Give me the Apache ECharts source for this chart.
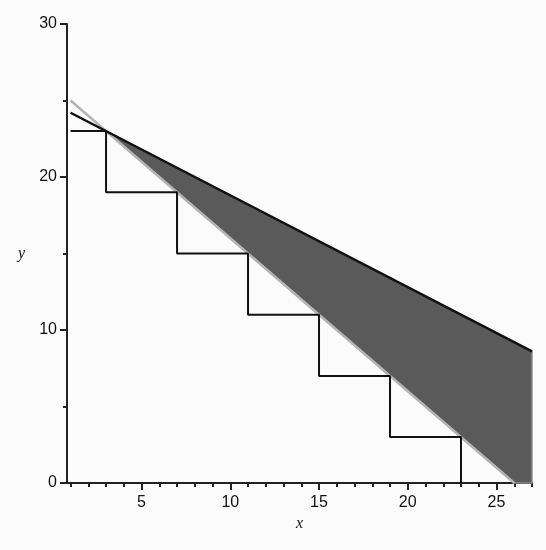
<!DOCTYPE html>
<html>
<head>
<meta charset="utf-8">
<script src="https://cdn.jsdelivr.net/npm/echarts@6/dist/echarts.min.js"></script>
<style>
  html, body { margin: 0; padding: 0; background: #fbfbfb; }
  #chart { width: 546px; height: 550px; }
</style>
</head>
<body>
<div id="chart"></div>
<script>
  // step function corners
  const stepX = [1, 3, 3, 7, 7, 11, 11, 15, 15, 19, 19, 23, 23];
  const stepY = [23, 23, 19, 19, 15, 15, 11, 11, 7, 7, 3, 3, 0];
  // two straight lines
  const blackLineX = [1, 27];
  const blackLineY = [24.2, 8.6];
  const grayLineX = [1, 26];
  const grayLineY = [25, 0];
  // shaded region between them
  const regionX = [3, 27, 27, 26];
  const regionY = [23, 8.6, 0, 0];
  // ticks
  const xMinorTicks = [1, 2, 3, 4, 5, 6, 7, 8, 9, 10, 11, 12, 13, 14, 15, 16, 17, 18, 19, 20, 21, 22, 23, 24, 25, 26, 27];
  const xMajorTicks = [5, 10, 15, 20, 25];
  const yMajorTicks = [0, 10, 20, 30];
  const yMinorTicks = [5, 15, 25];

  const zip = (xs, ys) => xs.map((x, i) => [x, ys[i]]);

  const chart = echarts.init(document.getElementById("chart"));

  const axisText = { color: "#111", fontSize: 16, fontFamily: "Liberation Sans" };
  const nameText = { color: "#111", fontSize: 16, fontStyle: "italic", fontFamily: "Liberation Serif" };

  const option = {
    backgroundColor: "#fbfbfb",
    animation: false,
    grid: { left: 67, right: 14, top: 24, bottom: 67 },
    xAxis: [
      {
        type: "value",
        min: 0.8,
        max: 27,
        name: "x",
        nameLocation: "middle",
        nameGap: 33,
        nameTextStyle: nameText,
        axisLine: { show: true, lineStyle: { color: "#222", width: 2 } },
        axisTick: { show: true, customValues: xMajorTicks, length: 7, lineStyle: { color: "#222", width: 2 } },
        axisLabel: { customValues: xMajorTicks, margin: 12, ...axisText },
        splitLine: { show: false }
      },
      {
        type: "value",
        position: "bottom",
        min: 0.8,
        max: 27,
        axisLine: { show: false },
        axisTick: { show: true, customValues: xMinorTicks, length: 4, lineStyle: { color: "#222", width: 2 } },
        axisLabel: { show: false },
        splitLine: { show: false }
      }
    ],
    yAxis: [
      {
        type: "value",
        min: 0,
        max: 30,
        name: "y",
        nameLocation: "middle",
        nameGap: 42,
        nameRotate: 0,
        nameTextStyle: nameText,
        axisLine: { show: true, lineStyle: { color: "#222", width: 2 } },
        axisTick: { show: true, customValues: yMajorTicks, length: 7, lineStyle: { color: "#222", width: 2 } },
        axisLabel: { customValues: yMajorTicks, margin: 10, ...axisText },
        splitLine: { show: false }
      },
      {
        type: "value",
        position: "left",
        min: 0,
        max: 30,
        axisLine: { show: false },
        axisTick: { show: true, customValues: yMinorTicks, length: 4, lineStyle: { color: "#222", width: 2 } },
        axisLabel: { show: false },
        splitLine: { show: false }
      }
    ],
    series: [
      {
        type: "custom",
        z: 1,
        data: zip(regionX, regionY),
        renderItem: function (params, api) {
          if (params.dataIndex !== 0) return;
          const pts = regionX.map((x, i) => api.coord([x, regionY[i]]));
          return {
            type: "polygon",
            shape: { points: pts },
            style: { fill: "#5a5a5a", stroke: "#8c8c8c", lineWidth: 1.5 }
          };
        }
      },
      {
        type: "line",
        z: 3,
        data: zip(grayLineX, grayLineY),
        symbol: "none",
        lineStyle: { color: "#b4b4b4", width: 2.5 }
      },
      {
        type: "line",
        z: 4,
        data: zip(blackLineX, blackLineY),
        symbol: "none",
        lineStyle: { color: "#111", width: 2.5 }
      },
      {
        type: "line",
        z: 5,
        data: zip(stepX, stepY),
        symbol: "none",
        lineStyle: { color: "#111", width: 2 }
      }
    ]
  };

  chart.setOption(option);
</script>
</body>
</html>
